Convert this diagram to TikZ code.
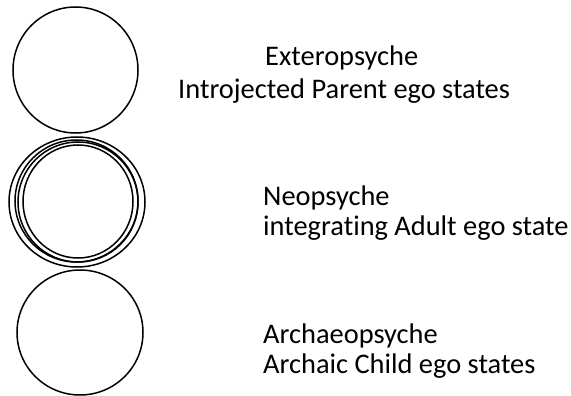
\documentclass[tikz,border=0pt]{standalone}
\usepackage{fontspec}
\setmainfont[Ligatures=NoCommon]{Carlito}
\usetikzlibrary{positioning}
\tikzset{
  ring/.style={line width=1.5pt},
  label/.style={anchor=base west, inner sep=0pt, font=\fontsize{28.4}{33}\selectfont}
}

\begin{document}
\begin{tikzpicture}[x=1pt, y=-1pt]
        \useasboundingbox (0,0) rectangle (571,396);

        % Top circle: Exteropsyche
        \draw[ring] (75.5,70) ellipse (62.5 and 63);

        % Middle circles: Neopsyche (several outlines)
        \draw[ring] (77,202) ellipse (68 and 65);
        \draw[ring] (76.5,201) ellipse (61.5 and 61);
        \draw[ring] (78,202) ellipse (60 and 60);
        \draw[ring] (78,201.5) ellipse (55 and 56.5);

        % Bottom circle: Archaeopsyche
        \draw[ring] (80,332.5) ellipse (63 and 62.5);

        % Labels
        \node[label] (extero) at (265,66) {Exteropsyche};
        \node[label] (parent) at (178,99) {Introjected Parent ego states};

        \node[label] (neo) at (263,205) {Neopsyche};
        \node[label] (adult) at (263,235) {integrating Adult ego state};

        \node[label] (archaeo) at (263,343) {Archaeopsyche};
        \node[label] (child) at (263,373) {Archaic Child ego states};

    \end{tikzpicture}
\end{document}
